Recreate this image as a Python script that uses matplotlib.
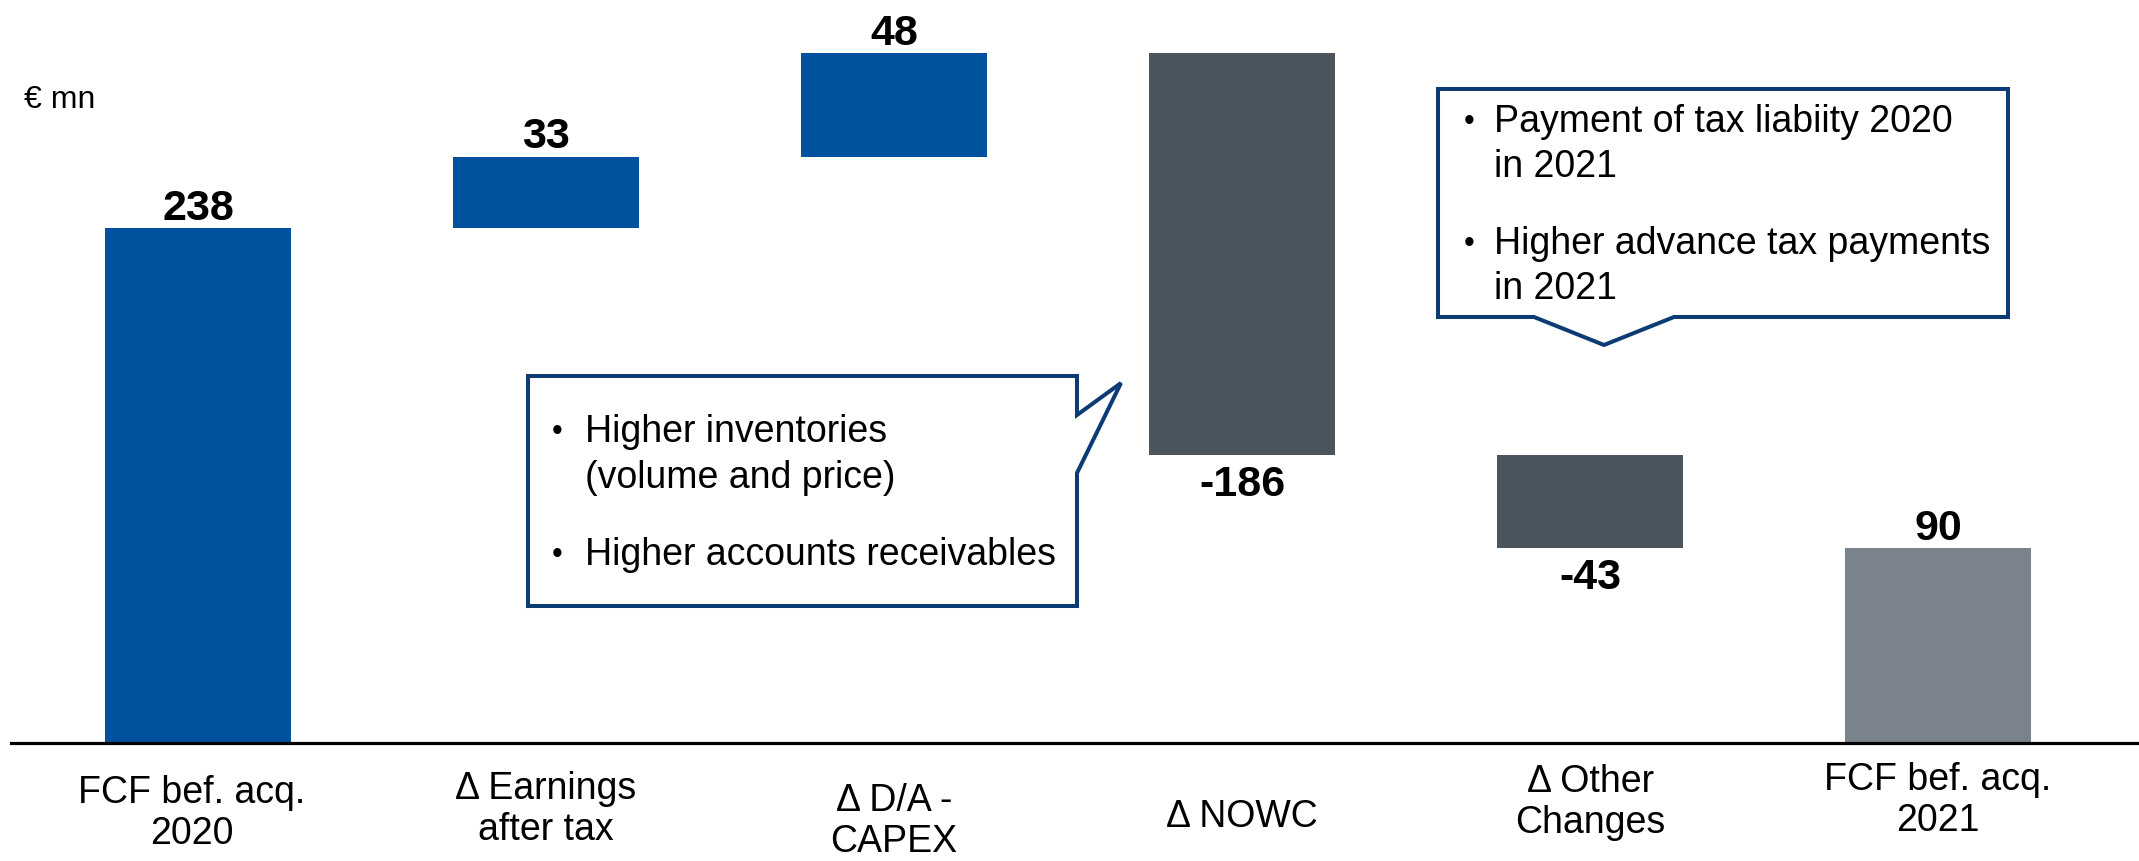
import matplotlib
matplotlib.use("Agg")
import matplotlib.pyplot as plt
from matplotlib.patches import Polygon
import numpy as np

plt.rcParams["font.family"] = ["Liberation Sans", "DejaVu Sans"]

# data
categories = ["FCF bef. acq.\n2020", "\u0394 Earnings\nafter tax", "\u0394 D/A -\nCAPEX",
              "\u0394 NOWC", "\u0394 Other\nChanges", "FCF bef. acq.\n2021"]
values = [238, 33, 48, -186, -43, 90]
kinds = ["total", "delta", "delta", "delta", "delta", "total"]
value_labels = ["238", "33", "48", "-186", "-43", "90"]

note_nowc = ["Higher inventories", "(volume and price)", "Higher accounts receivables"]
note_other = ["Payment of tax liabiity 2020", "in 2021", "Higher advance tax payments", "in 2021"]

BLUE = "#00519E"
DARK = "#4A555E"
LIGHT = "#7A828B"
NAVY = "#0D3B73"

W, H = 2139, 862
fig = plt.figure(figsize=(W / 100, H / 100), dpi=100)
ax = fig.add_axes([0, 0, 1, 1])

# layout: bar centres every 348 px starting at 198 px, 2.164 px per unit, baseline at 744 px
x0_px, step_px, base_px, unit_px = 198, 348, 744, 2.164
ax.set_xlim(-x0_px / step_px, (W - x0_px) / step_px)
ax.set_ylim(-(H - base_px) / unit_px, base_px / unit_px)
ax.axis("off")

x = np.arange(len(values))
bottoms, heights, colors = [], [], []
running = 0
for v, k in zip(values, kinds):
    if k == "total":
        bottoms.append(0)
        heights.append(v)
        colors.append(BLUE if running == 0 else LIGHT)
        running = v
    else:
        bottoms.append(running if v > 0 else running + v)
        heights.append(abs(v))
        colors.append(BLUE if v > 0 else DARK)
        running += v

ax.bar(x, heights, bottom=bottoms, width=0.537, color=colors, linewidth=0, zorder=2)
ax.axhline(0, xmin=11 / W, xmax=1, color="black", lw=2.3, zorder=3)

# value labels
for xi, b, h, v, lab in zip(x, bottoms, heights, values, value_labels):
    if v >= 0:
        ax.annotate(lab, (xi, b + h), xytext=(0, 14.5), textcoords="offset points",
                    ha="center", va="center", fontsize=31, fontweight="bold")
    else:
        ax.annotate(lab, (xi, b), xytext=(0, -21), textcoords="offset points",
                    ha="center", va="center", fontsize=31, fontweight="bold")

# category labels (centre of text block in px from top)
label_centre_px = [814, 810, 822, 817, 803, 801]
label_dx_px = [-6, 0, 0, 0, 0, 0]
line_px = 41
for xi, cat, cy, dx in zip(x, categories, label_centre_px, label_dx_px):
    lines = cat.split("\n")
    n = len(lines)
    for j, ln in enumerate(lines):
        py = cy + (j - (n - 1) / 2) * line_px
        ax.text(xi + dx / step_px, 1 - py / H, ln, transform=ax.get_xaxis_transform(),
                ha="center", va="center", fontsize=27)

def fpx(pts):
    return [(px / W, 1 - py / H) for px, py in pts]

ax.text(24 / W, 1 - 100 / H, "\u20ac mn", transform=fig.transFigure,
        ha="left", va="center", fontsize=23)

# callout for NOWC
c1 = [(528, 377), (1077, 377), (1077, 416), (1121, 384), (1077, 474),
      (1077, 607), (528, 607)]
fig.patches.append(Polygon(fpx(c1), closed=True, transform=fig.transFigure,
                           facecolor="white", edgecolor=NAVY, lw=2.9, joinstyle="miter", zorder=5))
for txt, py, bullet in zip(note_nowc, [432, 478, 555], [True, False, True]):
    if bullet:
        fig.text(552 / W, 1 - py / H, "\u2022", ha="left", va="center", fontsize=22, zorder=6)
    fig.text(585 / W, 1 - py / H, txt, ha="left", va="center", fontsize=27, zorder=6)

# callout for other changes
c2 = [(1438, 90), (2008, 90), (2008, 318), (1674, 318), (1604, 346),
      (1534, 318), (1438, 318)]
fig.patches.append(Polygon(fpx(c2), closed=True, transform=fig.transFigure,
                           facecolor="white", edgecolor=NAVY, lw=2.9, joinstyle="miter", zorder=5))
for txt, py, bullet in zip(note_other, [122, 167, 244, 289], [True, False, True, False]):
    if bullet:
        fig.text(1464 / W, 1 - py / H, "\u2022", ha="left", va="center", fontsize=22, zorder=6)
    fig.text(1494 / W, 1 - py / H, txt, ha="left", va="center", fontsize=27, zorder=6)

fig.savefig("out.png", dpi=100)
